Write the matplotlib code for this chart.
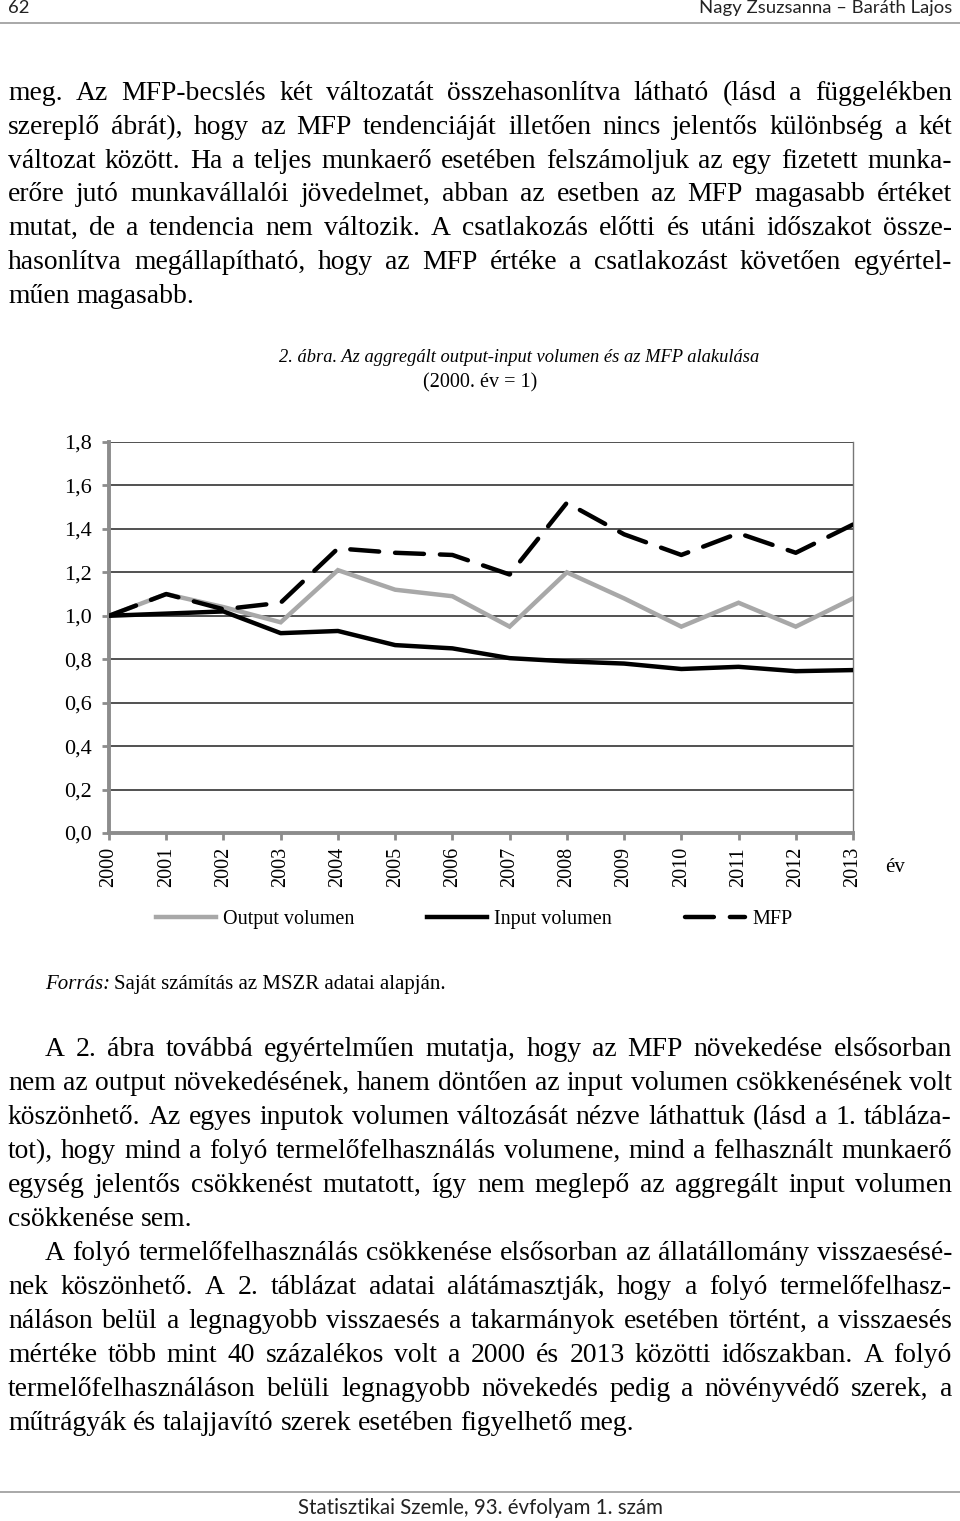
import matplotlib
matplotlib.use("Agg")
import matplotlib.pyplot as plt

# chart values
years = list(range(2000, 2014))
output_vol = [1.00, 1.10, 1.04, 0.97, 1.21, 1.12, 1.09, 0.95, 1.20, 1.08, 0.95, 1.06, 0.95, 1.08]
input_vol = [1.00, 1.01, 1.02, 0.92, 0.93, 0.865, 0.85, 0.805, 0.79, 0.78, 0.755, 0.765, 0.745, 0.75]
mfp = [1.00, 1.10, 1.03, 1.06, 1.31, 1.29, 1.28, 1.19, 1.52, 1.375, 1.28, 1.38, 1.29, 1.42]
series_names = ["Output volumen", "Input volumen", "MFP"]
y_ticks = [0.0, 0.2, 0.4, 0.6, 0.8, 1.0, 1.2, 1.4, 1.6, 1.8]
y_tick_labels = ["0,0", "0,2", "0,4", "0,6", "0,8", "1,0", "1,2", "1,4", "1,6", "1,8"]

para1 = [
    "meg. Az MFP-becslés két változatát összehasonlítva látható (lásd a függelékben",
    "szereplő ábrát), hogy az MFP tendenciáját illetően nincs jelentős különbség a két",
    "változat között. Ha a teljes munkaerő esetében felszámoljuk az egy fizetett munka-",
    "erőre jutó munkavállalói jövedelmet, abban az esetben az MFP magasabb értéket",
    "mutat, de a tendencia nem változik. A csatlakozás előtti és utáni időszakot össze-",
    "hasonlítva megállapítható, hogy az MFP értéke a csatlakozást követően egyértel-",
    "műen magasabb.",
]
para2 = [
    "A 2. ábra továbbá egyértelműen mutatja, hogy az MFP növekedése elsősorban",
    "nem az output növekedésének, hanem döntően az input volumen csökkenésének volt",
    "köszönhető. Az egyes inputok volumen változását nézve láthattuk (lásd a 1. tábláza-",
    "tot), hogy mind a folyó termelőfelhasználás volumene, mind a felhasznált munkaerő",
    "egység jelentős csökkenést mutatott, így nem meglepő az aggregált input volumen",
    "csökkenése sem.",
]
para3 = [
    "A folyó termelőfelhasználás csökkenése elsősorban az állatállomány visszaesésé-",
    "nek köszönhető. A 2. táblázat adatai alátámasztják, hogy a folyó termelőfelhasz-",
    "náláson belül a legnagyobb visszaesés a takarmányok esetében történt, a visszaesés",
    "mértéke több mint 40 százalékos volt a 2000 és 2013 közötti időszakban. A folyó",
    "termelőfelhasználáson belüli legnagyobb növekedés pedig a növényvédő szerek, a",
    "műtrágyák és talajjavító szerek esetében figyelhető meg.",
]

SERIF = "Liberation Serif"
SANS = "Lato"
W, H = 960, 1521
BODY = 19.9

fig = plt.figure(figsize=(W / 100, H / 100), dpi=100)
fig.patch.set_facecolor("white")
renderer = fig.canvas.get_renderer()

# page layer in pixel coordinates
page = fig.add_axes([0, 0, 1, 1])
page.set_xlim(0, W)
page.set_ylim(H, 0)
page.axis("off")


def text_width(t):
    return t.get_window_extent(renderer).width


def write_line(line, y, x0, x1, size, justify=True):
    words = line.split()
    texts = [page.text(0, y, w, fontsize=size, family=SERIF, va="baseline") for w in words]
    widths = [text_width(t) for t in texts]
    if justify and len(words) > 1:
        gap = (x1 - x0 - sum(widths)) / (len(words) - 1)
    else:
        probe = page.text(0, 0, "x x", fontsize=size, family=SERIF)
        probe2 = page.text(0, 0, "xx", fontsize=size, family=SERIF)
        gap = text_width(probe) - text_width(probe2)
        probe.remove()
        probe2.remove()
    x = x0
    for t, w in zip(texts, widths):
        t.set_x(x)
        x += w + gap


def write_paragraph(lines, y0, indent, step=34.0):
    for i, line in enumerate(lines):
        x0 = 8 + (indent if i == 0 else 0)
        write_line(line, y0 + i * step, x0, 952, BODY, justify=(i < len(lines) - 1))


# header and footer
page.text(8, 8, "62", fontsize=13.3, family=SANS, va="center", ha="left", color="#222222")
page.text(952, 8, "Nagy Zsuzsanna – Baráth Lajos", fontsize=13.3, family=SANS,
          va="center", ha="right", color="#222222")
page.plot([0, W], [23, 23], color="#9a9a9a", lw=1.2)
page.plot([0, W], [1492, 1492], color="#9a9a9a", lw=1.2)
page.text(480, 1508, "Statisztikai Szemle, 93. évfolyam 1. szám", fontsize=14.8,
          family=SANS, va="center", ha="center", color="#222222")

write_paragraph(para1, 100, 0, step=33.8)
write_paragraph(para2, 1056, 37)
write_paragraph(para3, 1260, 37)

# caption
page.text(519, 357, "2. ábra. Az aggregált output-input volumen és az MFP alakulása",
          fontsize=13.3, family=SERIF, style="italic", ha="center", va="center")
page.text(480, 383, "(2000. év = 1)", fontsize=14.5, family=SERIF, ha="center", va="center")

# source line
src = page.text(45, 989, "Forrás:", fontsize=15, family=SERIF, style="italic", va="baseline")
page.text(45 + text_width(src) + 4, 989, "Saját számítás az MSZR adatai alapján.",
          fontsize=15, family=SERIF, va="baseline")

# chart
left, right, top, bottom = 109, 853, 442, 833
ax = fig.add_axes([left / W, 1 - bottom / H, (right - left) / W, (bottom - top) / H])
ax.set_facecolor("none")
ax.set_xlim(years[0], years[-1])
ax.set_ylim(0, 1.8)
ax.set_yticks(y_ticks)
ax.set_yticklabels(y_tick_labels, fontsize=16, family=SERIF)
ax.set_xticks(years)
ax.set_xticklabels([str(y) for y in years], rotation=90, fontsize=14.5, family=SERIF)
for v in y_ticks[1:]:
    ax.axhline(v, color="#333333", lw=1.2, zorder=1)

ax.plot(years, output_vol, color="#a8a8a8", lw=3.2, label=series_names[0], zorder=3,
        solid_joinstyle="miter")
ax.plot(years, input_vol, color="black", lw=3.2, label=series_names[1], zorder=4)
ax.plot(years, mfp, color="black", lw=3.2, dashes=(6.5, 3.6), label=series_names[2],
        zorder=5, dash_capstyle="round")

for side in ["left", "bottom"]:
    ax.spines[side].set_color("#8c8c8c")
    ax.spines[side].set_linewidth(2.8)
ax.spines["right"].set_color("#777777")
ax.spines["right"].set_linewidth(1.0)
ax.spines["top"].set_visible(False)
ax.tick_params(axis="both", colors="#8c8c8c", width=2, length=5, labelcolor="black")
ax.tick_params(axis="y", pad=7.5)
ax.tick_params(axis="x", pad=5)

page.text(895, 868, "év", fontsize=15, family=SERIF, ha="center", va="center")

fig.legend(loc="center", bbox_to_anchor=(474 / W, 1 - 919 / H), ncol=3, frameon=False,
           prop={"family": SERIF, "size": 14.5}, handlelength=3.0, handletextpad=0.35,
           columnspacing=3.6)

fig.savefig("out.png", dpi=100, facecolor="white")
